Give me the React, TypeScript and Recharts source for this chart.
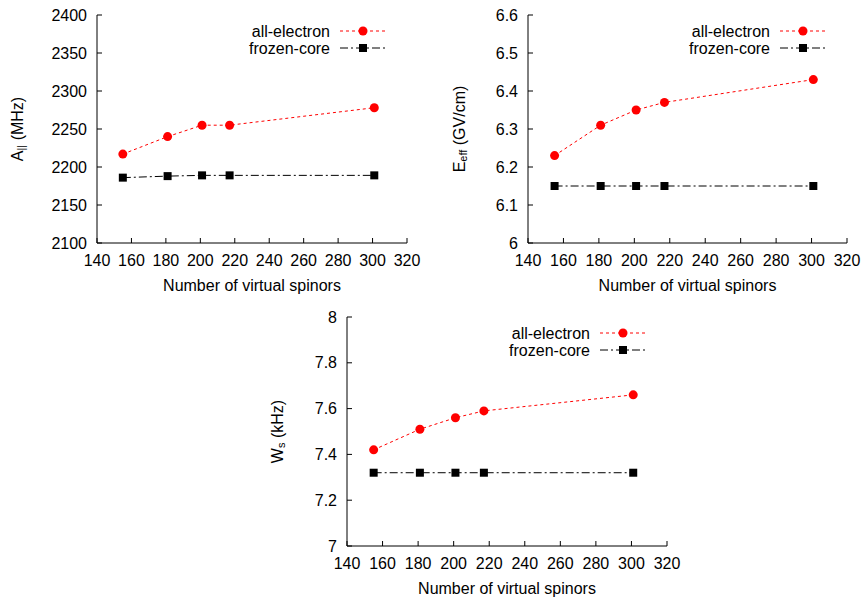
import React from 'react';
import { LineChart, Line, XAxis, YAxis, Label, Customized } from 'recharts';

const spinors = [155, 181, 201, 217, 301];
const xTicks = [140, 160, 180, 200, 220, 240, 260, 280, 300, 320];

const hyperfineAll = [2217, 2240, 2255, 2255, 2278];
const hyperfineFrozen = [2186, 2188, 2189, 2189, 2189];
const hyperfineTicks = [2100, 2150, 2200, 2250, 2300, 2350, 2400];

const effFieldAll = [6.23, 6.31, 6.35, 6.37, 6.43];
const effFieldFrozen = [6.15, 6.15, 6.15, 6.15, 6.15];
const effFieldTicks = [6, 6.1, 6.2, 6.3, 6.4, 6.5, 6.6];

const wsAll = [7.42, 7.51, 7.56, 7.59, 7.66];
const wsFrozen = [7.32, 7.32, 7.32, 7.32, 7.32];
const wsTicks = [7, 7.2, 7.4, 7.6, 7.8, 8];

const seriesNames = ['all-electron', 'frozen-core'];

const FONT = '"Liberation Sans", Arial, Helvetica, sans-serif';
const FS = 16;
const RED_DASH = '3 3';
const BLACK_DASH = '8 3 2 3';

const redDot = (p: any) => <circle key={`r${p.index}`} cx={p.cx} cy={p.cy} r={4.5} fill="#ff0000" />;
const blackDot = (p: any) => <rect key={`b${p.index}`} x={p.cx - 4} y={p.cy - 4} width={8} height={8} fill="#000" />;

interface PanelProps {
    left: number;
    top: number;
    plotW: number;
    plotH: number;
    allVals: number[];
    frozenVals: number[];
    yTicks: number[];
    yName: string;
    ySub: string;
    yUnit: string;
    labelGap: number;
}

function Panel({ left, top, plotW, plotH, allVals, frozenVals, yTicks, yName, ySub, yUnit, labelGap }: PanelProps) {
    const data = spinors.map((x, i) => ({ x, all: allVals[i], frozen: frozenVals[i] }));
    const yDomain = [yTicks[0], yTicks[yTicks.length - 1]];
    const plotLeft = 100;
    const plotTop = 15;
    const plotRight = plotLeft + plotW;
    const tickStyle = { fill: '#000', fontSize: FS, fontFamily: FONT };

    const legend = () => (
        <g fontFamily={FONT} fontSize={FS}>
            {seriesNames.map((name, i) => {
                const y = plotTop + 16 + i * 17;
                return (
                    <g key={name}>
                        <text x={plotRight - 77} y={y} textAnchor="end" dominantBaseline="central" fill="#000">{name}</text>
                        <line x1={plotRight - 67} x2={plotRight - 22} y1={y} y2={y}
                            stroke={i === 0 ? '#ff0000' : '#000'} strokeDasharray={i === 0 ? RED_DASH : BLACK_DASH} />
                        {i === 0
                            ? <circle cx={plotRight - 44} cy={y} r={4.5} fill="#ff0000" />
                            : <rect x={plotRight - 48} y={y - 4} width={8} height={8} fill="#000" />}
                    </g>
                );
            })}
        </g>
    );

    return (
        <div style={{ position: 'absolute', left: left - plotLeft, top: top - plotTop }}>
            <LineChart width={plotW + 115} height={plotH + 72} data={data}
                margin={{ top: plotTop, right: 15, left: 40, bottom: 5 }}>
                <XAxis dataKey="x" type="number" domain={[140, 320]} ticks={xTicks} interval={0}
                    allowDataOverflow stroke="#000" tickSize={-5} tickMargin={17} height={52} tick={tickStyle}>
                    <Label content={(p: any) => {
                        const vb = p.viewBox || { x: plotLeft, y: plotTop + plotH, width: plotW };
                        return (
                            <text x={vb.x + vb.width / 2} y={vb.y + 42} textAnchor="middle" dominantBaseline="central"
                                fontFamily={FONT} fontSize={FS} fill="#000">Number of virtual spinors</text>
                        );
                    }} />
                </XAxis>
                <XAxis xAxisId="top" orientation="top" dataKey="x" type="number" domain={[140, 320]} ticks={xTicks}
                    interval={0} allowDataOverflow stroke="#000" tickSize={-5} height={0} tickFormatter={() => ''} />
                <YAxis type="number" domain={yDomain} ticks={yTicks} interval={0} allowDataOverflow stroke="#000"
                    tickSize={-5} tickMargin={15} width={60} tick={tickStyle}>
                    <Label content={(p: any) => {
                        const vb = p.viewBox || { x: 40, y: plotTop, width: 60, height: plotH };
                        const cx = vb.x + vb.width - labelGap;
                        const cy = vb.y + vb.height / 2;
                        return (
                            <text x={cx} y={cy} transform={`rotate(-90 ${cx} ${cy})`} textAnchor="middle"
                                dominantBaseline="central" fontFamily={FONT} fontSize={FS} fill="#000">
                                {yName}<tspan dy={4} fontSize={11}>{ySub}</tspan><tspan dy={-4}>{` ${yUnit}`}</tspan>
                            </text>
                        );
                    }} />
                </YAxis>
                <YAxis yAxisId="right" orientation="right" type="number" domain={yDomain} ticks={yTicks} interval={0}
                    allowDataOverflow stroke="#000" tickSize={-5} width={0} tickFormatter={() => ''} />
                <Line dataKey="frozen" name={seriesNames[1]} stroke="#000" strokeWidth={1} strokeDasharray={BLACK_DASH}
                    dot={blackDot} isAnimationActive={false} type="linear" />
                <Line dataKey="all" name={seriesNames[0]} stroke="#ff0000" strokeWidth={1} strokeDasharray={RED_DASH}
                    dot={redDot} isAnimationActive={false} type="linear" />
                <Customized component={legend} />
            </LineChart>
        </div>
    );
}

export default function App() {
    return (
        <div style={{ position: 'absolute', left: 0, top: 0, width: 865, height: 598, overflow: 'hidden', background: '#fff' }}>
            <Panel left={97} top={15} plotW={310} plotH={228} allVals={hyperfineAll} frozenVals={hyperfineFrozen}
                yTicks={hyperfineTicks} yName="A" ySub="||" yUnit="(MHz)" labelGap={80} />
            <Panel left={528} top={15} plotW={319} plotH={228} allVals={effFieldAll} frozenVals={effFieldFrozen}
                yTicks={effFieldTicks} yName="E" ySub="eff" yUnit="(GV/cm)" labelGap={69} />
            <Panel left={347} top={317} plotW={320} plotH={229} allVals={wsAll} frozenVals={wsFrozen}
                yTicks={wsTicks} yName="W" ySub="s" yUnit="(kHz)" labelGap={70} />
        </div>
    );
}
